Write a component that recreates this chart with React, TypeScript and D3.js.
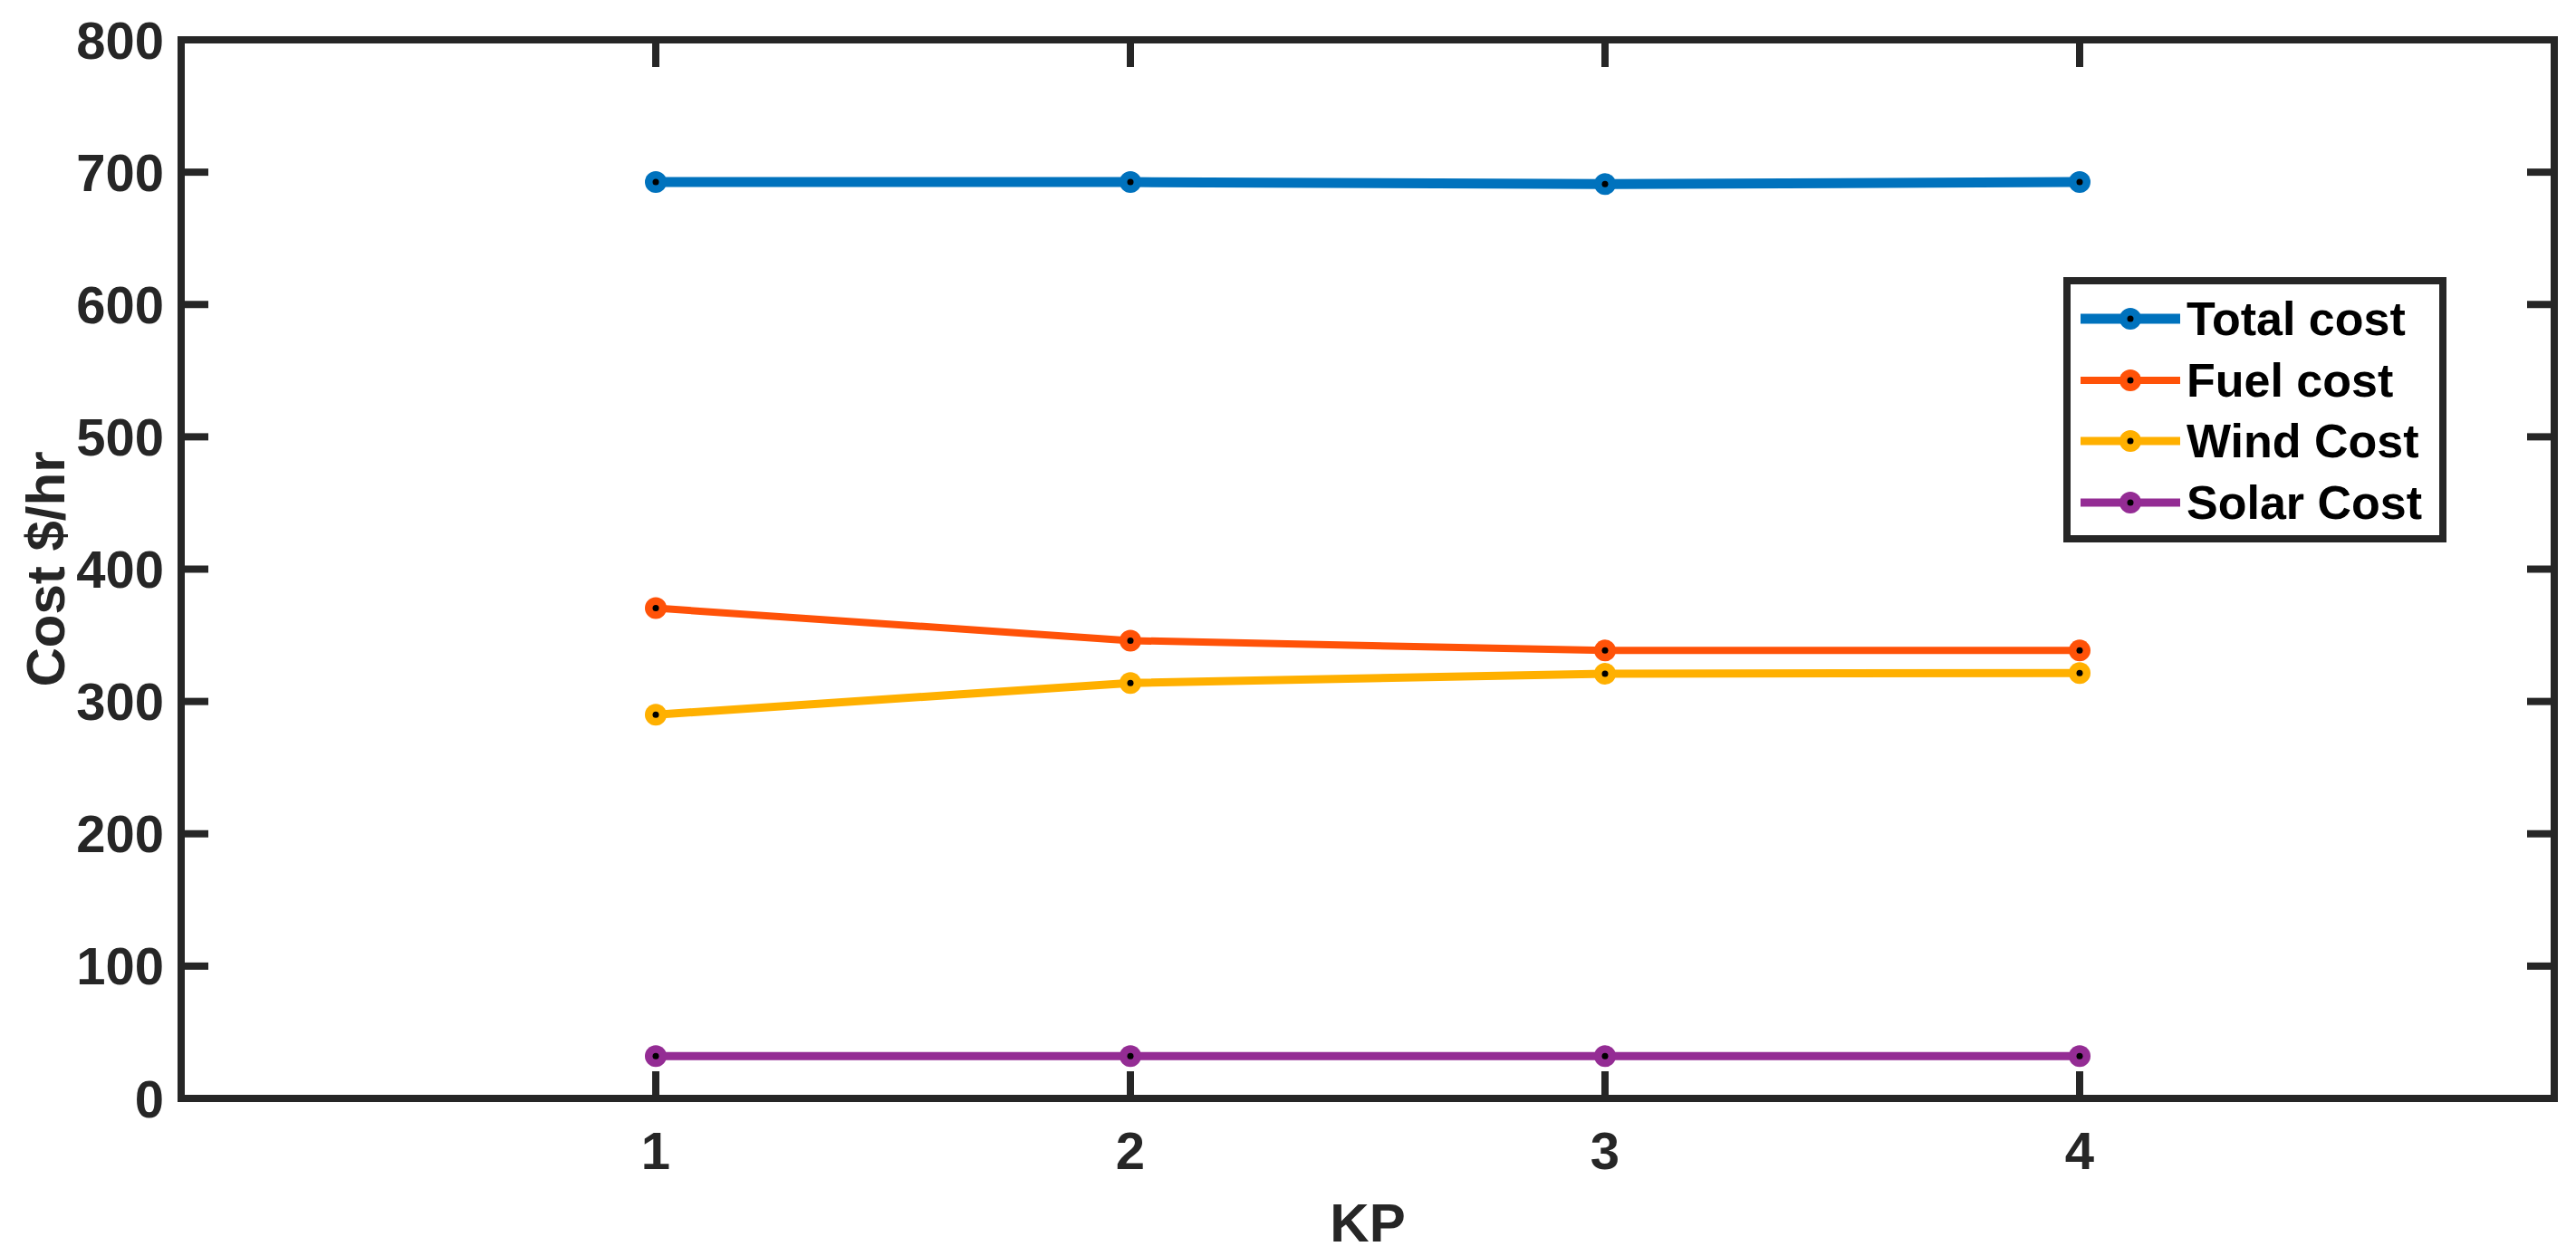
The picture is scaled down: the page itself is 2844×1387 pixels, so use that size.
import React from "react";
import * as d3 from "d3";

const kp = [1, 2, 3, 4];
const totalCost = [692.5, 692.5, 691, 692.5];
const fuelCost = [370.5, 346, 338.5, 338.5];
const windCost = [290, 314, 321, 321.5];
const solarCost = [32, 32, 32, 32];
const seriesNames = ["Total cost", "Fuel cost", "Wind Cost", "Solar Cost"];
const seriesColors = ["#0072BD", "#FF5208", "#FFB000", "#942C94"];
const seriesWidths = [11, 8, 9, 9];
const yTicks = [0, 100, 200, 300, 400, 500, 600, 700, 800];
const xTicks = [1, 2, 3, 4];

const W = 2844, H = 1387;
const L = 200, R = 2820, T = 44, B = 1213;
const FONT = "'Liberation Sans', Arial, Helvetica, sans-serif";
const AX = "#262626";

export default function App() {
  const x = d3.scaleLinear().domain([0, 5]).range([L, R]);
  const y = d3.scaleLinear().domain([0, 800]).range([B, T]);
  const allSeries = [totalCost, fuelCost, windCost, solarCost];
  const line = d3.line<number>().x((_, i) => x(kp[i])).y((d) => y(d));
  const tickLen = 30;
  const legL = 2282, legR = 2697, legT = 310, legB = 595;
  const rowY = [352, 420, 487, 555];

  return (
    <svg width={W} height={H} style={{ position: "absolute", left: 0, top: 0, background: "#fff" }}>
      <rect x={0} y={0} width={W} height={H} fill="#fff" />
      {/* series */}
      {allSeries.map((s, si) => (
        <g key={si}>
          <path d={line(s) || ""} fill="none" stroke={seriesColors[si]} strokeWidth={seriesWidths[si]} />
          {s.map((v, i) => (
            <g key={i}>
              <circle cx={x(kp[i])} cy={y(v)} r={12} fill={seriesColors[si]} />
              <circle cx={x(kp[i])} cy={y(v)} r={3.5} fill="#000" />
            </g>
          ))}
        </g>
      ))}
      {/* ticks */}
      {yTicks.map((t) => (
        <g key={"y" + t}>
          <line x1={L} x2={L + tickLen} y1={y(t)} y2={y(t)} stroke={AX} strokeWidth={8} />
          <line x1={R} x2={R - tickLen} y1={y(t)} y2={y(t)} stroke={AX} strokeWidth={8} />
          <text x={L - 19} y={y(t)} textAnchor="end" dominantBaseline="central" fontFamily={FONT} fontWeight="bold" fontSize={58} fill={AX}>{t}</text>
        </g>
      ))}
      {xTicks.map((t) => (
        <g key={"x" + t}>
          <line x1={x(t)} x2={x(t)} y1={B} y2={B - tickLen} stroke={AX} strokeWidth={8} />
          <line x1={x(t)} x2={x(t)} y1={T} y2={T + tickLen} stroke={AX} strokeWidth={8} />
          <text x={x(t)} y={B + 57} textAnchor="middle" dominantBaseline="central" fontFamily={FONT} fontWeight="bold" fontSize={58} fill={AX}>{t}</text>
        </g>
      ))}
      {/* axes box */}
      <rect x={L} y={T} width={R - L} height={B - T} fill="none" stroke={AX} strokeWidth={8} />
      {/* axis labels */}
      <text x={(L + R) / 2} y={1350} textAnchor="middle" dominantBaseline="central" fontFamily={FONT} fontWeight="bold" fontSize={60} fill={AX}>KP</text>
      <text transform={`translate(50,${(T + B) / 2}) rotate(-90)`} textAnchor="middle" dominantBaseline="central" fontFamily={FONT} fontWeight="bold" fontSize={60} fill={AX}>Cost $/hr</text>
      {/* legend */}
      <rect x={legL} y={legT} width={legR - legL} height={legB - legT} fill="#fff" stroke={AX} strokeWidth={8} />
      {seriesNames.map((n, i) => (
        <g key={n}>
          <line x1={2297} x2={2407} y1={rowY[i]} y2={rowY[i]} stroke={seriesColors[i]} strokeWidth={seriesWidths[i]} />
          <circle cx={2352} cy={rowY[i]} r={12} fill={seriesColors[i]} />
          <circle cx={2352} cy={rowY[i]} r={3.5} fill="#000" />
          <text x={2414} y={rowY[i]} dominantBaseline="central" fontFamily={FONT} fontWeight="bold" fontSize={52} fill="#000">{n}</text>
        </g>
      ))}
    </svg>
  );
}
